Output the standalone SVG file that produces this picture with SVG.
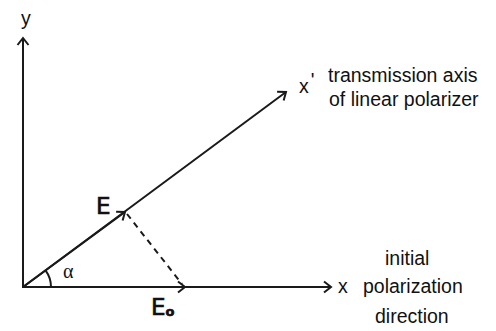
<svg xmlns="http://www.w3.org/2000/svg" width="496" height="331" viewBox="0 0 496 331">
<style>
.ln{stroke:#1a1a1a;stroke-width:2;fill:none}
.dash{stroke:#1a1a1a;stroke-width:2;fill:none;stroke-dasharray:6 5}
.t{font-family:"Liberation Sans",Arial,sans-serif;font-size:19.5px;fill:#111}
.big{font-family:"DejaVu Sans","Liberation Sans",sans-serif;font-size:23px;fill:#111;stroke:#111;stroke-width:0.7}
</style>
<defs>
<marker id="ah" markerUnits="userSpaceOnUse" markerWidth="16" markerHeight="16" viewBox="-10 -8 12 16" refX="0" refY="0" orient="auto">
<path d="M-7,-5.5 L0,0 L-7,5.5" fill="none" stroke="#1a1a1a" stroke-width="2"/>
</marker>
</defs>
<rect width="496" height="331" fill="#fff"/>
<g id="connectors">
<line class="ln" x1="23" y1="288" x2="23" y2="38" marker-end="url(#ah)"/>
<line class="ln" x1="22" y1="287" x2="331" y2="287" marker-end="url(#ah)"/>
<line class="ln" x1="23" y1="287" x2="286" y2="92" marker-end="url(#ah)"/>
<line class="ln" x1="23" y1="287" x2="125" y2="212" marker-end="url(#ah)"/>
<line class="ln" x1="23" y1="287" x2="185" y2="287" marker-end="url(#ah)"/>
<line class="dash" x1="127" y1="214" x2="182" y2="284"/>
<path class="ln" d="M51,287 A28,28 0 0 0 45.5,270.4" stroke-width="1.6"/>
</g>
<g id="y-axis-label"><text class="t" x="21" y="25">y</text></g>
<g id="x-axis-label"><text class="t" x="338" y="293">x</text></g>
<g id="xprime-label"><text class="t" x="299" y="93">x<tspan dx="2" dy="-6">'</tspan></text></g>
<g id="transmission-label">
<text class="t" x="328" y="82">transmission axis</text>
<text class="t" x="329" y="106">of linear polarizer</text>
</g>
<g id="initial-label">
<text class="t" x="385" y="265">initial</text>
<text class="t" x="363" y="293">polarization</text>
<text class="t" x="375" y="323">direction</text>
</g>
<g id="alpha-label"><text x="63" y="278" font-family="'Liberation Serif',serif" font-size="20" fill="#111">α</text></g>
<g id="E-label"><text class="big" x="96" y="214">E</text></g>
<g id="E0-label"><text class="big" x="151" y="315">E<tspan font-size="13" font-weight="bold" dy="1">o</tspan></text></g>
</svg>
